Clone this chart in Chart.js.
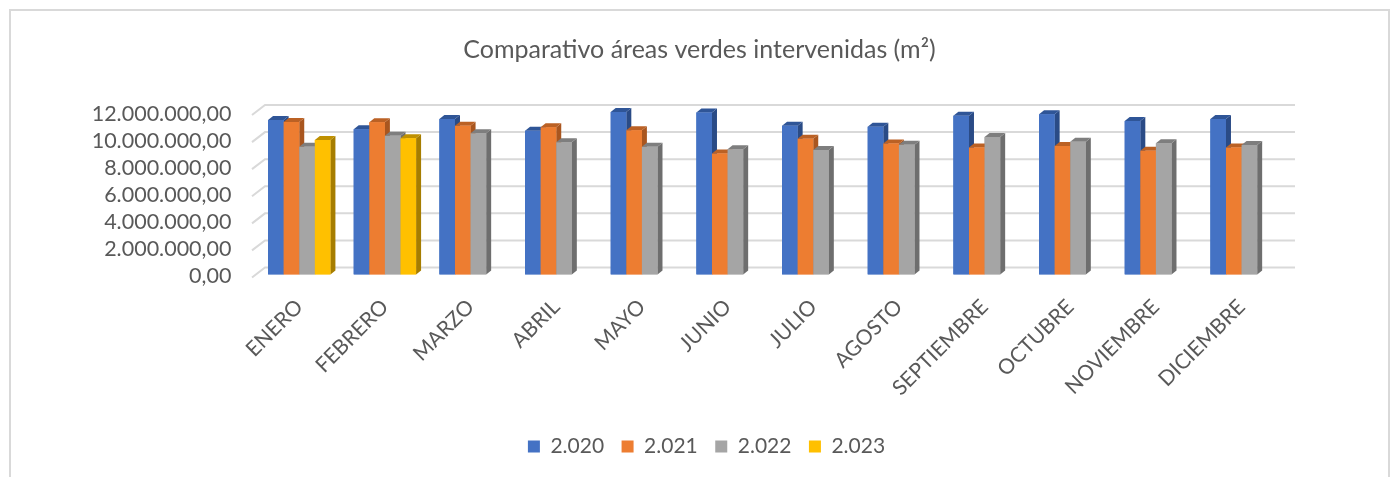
<!DOCTYPE html>
<html>
<head>
<meta charset="utf-8">
<title>Comparativo áreas verdes intervenidas</title>
<script src="https://cdn.jsdelivr.net/npm/chart.js@4/dist/chart.umd.min.js"></script>
<style>
    html, body { margin: 0; height: 100%; background: #fff; overflow: hidden; }
    #frame { position: absolute; left: 9px; top: 9px; width: 1377px; height: 600px; border: 2px solid #d9d9d9; }
    #areasChart { position: absolute; left: 0; top: 0; filter: blur(0.45px); }
</style>
</head>
<body>
<div id="frame"></div>
<canvas id="areasChart" width="1390" height="477"></canvas>
<script>
const months = ['ENERO', 'FEBRERO', 'MARZO', 'ABRIL', 'MAYO', 'JUNIO', 'JULIO', 'AGOSTO', 'SEPTIEMBRE', 'OCTUBRE', 'NOVIEMBRE', 'DICIEMBRE'];
const yTickLabels = ['0,00', '2.000.000,00', '4.000.000,00', '6.000.000,00', '8.000.000,00', '10.000.000,00', '12.000.000,00'];

const values2020 = [11410000, 10720000, 11480000, 10620000, 12000000, 11970000, 10990000, 10920000, 11730000, 11830000, 11340000, 11480000];
const values2021 = [11270000, 11240000, 10990000, 10870000, 10650000, 8930000, 10030000, 9670000, 9370000, 9490000, 9130000, 9370000];
const values2022 = [9440000, 10250000, 10430000, 9770000, 9440000, 9250000, 9200000, 9590000, 10160000, 9810000, 9690000, 9570000];
const values2023 = [9940000, 10060000, null, null, null, null, null, null, null, null, null, null];

const textColor = '#595959';
const gridColor = '#d9d9d9';
const depthX = 5;
const depthY = 4;

function makeSeries(label, data, front, top, side) {
    return { label: label, data: data, backgroundColor: front, topColor: top, sideColor: side, borderWidth: 0 };
}

// back wall and left wall lines of the 3D look
const wallGrid = {
    id: 'wallGrid',
    beforeDatasetsDraw(chart) {
        const ctx = chart.ctx;
        const y = chart.scales.y;
        const left = chart.chartArea.left - 4.4;
        ctx.save();
        ctx.strokeStyle = gridColor;
        ctx.lineWidth = 2;
        y.ticks.forEach(t => {
            const py = y.getPixelForValue(t.value);
            ctx.beginPath();
            ctx.moveTo(left, py + 3);
            ctx.lineTo(left + 13, py - 7);
            ctx.lineTo(1295, py - 7);
            ctx.stroke();
        });
        ctx.restore();
    }
};

// side + top faces, then the bar again so series overlap left to right
const barDepth = {
    id: 'barDepth',
    afterDatasetsDraw(chart) {
        const ctx = chart.ctx;
        chart.data.datasets.forEach((ds, i) => {
            chart.getDatasetMeta(i).data.forEach((bar, j) => {
                if (ds.data[j] === null) return;
                const p = bar.getProps(['x', 'y', 'base', 'width'], true);
                const l = p.x - p.width / 2;
                const r = p.x + p.width / 2;
                ctx.fillStyle = ds.sideColor;
                ctx.beginPath();
                ctx.moveTo(r, p.y);
                ctx.lineTo(r + depthX, p.y - depthY);
                ctx.lineTo(r + depthX, p.base - depthY);
                ctx.lineTo(r, p.base);
                ctx.fill();
                ctx.fillStyle = ds.topColor;
                ctx.beginPath();
                ctx.moveTo(l, p.y);
                ctx.lineTo(l + depthX, p.y - depthY);
                ctx.lineTo(r + depthX, p.y - depthY);
                ctx.lineTo(r, p.y);
                ctx.fill();
                bar.draw(ctx);
            });
        });
    }
};

// legend sits a little right of the title in the original
const legendNudge = {
    id: 'legendNudge',
    afterLayout(chart) {
        chart.legend.left += 7;
        chart.legend.right += 7;
    }
};

new Chart(document.getElementById('areasChart').getContext('2d'), {
    type: 'bar',
    plugins: [wallGrid, barDepth, legendNudge],
    data: {
        labels: months,
        datasets: [
            makeSeries('2.020', values2020, '#4472c4', '#2f5597', '#2a4b86'),
            makeSeries('2.021', values2021, '#ed7d31', '#bb6124', '#a9561f'),
            makeSeries('2.022', values2022, '#a5a5a5', '#7e7e7e', '#6e6e6e'),
            makeSeries('2.023', values2023, '#ffc000', '#bf9000', '#a67d00')
        ]
    },
    options: {
        responsive: false,
        animation: false,
        layout: { padding: { left: 9, right: 0, top: 0, bottom: 10 } },
        datasets: { bar: { categoryPercentage: 0.728, barPercentage: 1 } },
        plugins: {
            tooltip: { enabled: false },
            title: {
                display: true,
                text: 'Comparativo áreas verdes intervenidas (m²)',
                color: textColor,
                font: { family: 'Lato', size: 25, weight: 'normal' },
                padding: { top: 35, bottom: 47 }
            },
            legend: {
                position: 'bottom',
                labels: {
                    color: textColor,
                    font: { family: 'Lato', size: 21 },
                    boxWidth: 12,
                    boxHeight: 12,
                    padding: 17.5
                }
            }
        },
        scales: {
            x: {
                grid: { display: false },
                border: { display: false },
                ticks: {
                    color: textColor,
                    font: { family: 'Lato', size: 21 },
                    minRotation: 45,
                    maxRotation: 45,
                    autoSkip: false,
                    padding: 12
                },
                afterFit: s => { s.height = 144; }
            },
            y: {
                min: 0,
                max: 12000000,
                grid: { display: false },
                border: { display: false },
                ticks: {
                    stepSize: 2000000,
                    autoSkip: false,
                    color: textColor,
                    font: { family: 'Lato', size: 21.5 },
                    padding: 17,
                    labelOffset: 2,
                    callback: (v, i) => yTickLabels[i]
                },
                afterFit: s => { s.width = 247.4; }
            },
            // empty axis, only keeps the plot clear of the right side
            spacer: {
                position: 'right',
                grid: { display: false },
                border: { display: false },
                ticks: { display: false },
                afterFit: s => { s.width = 105.6; }
            }
        }
    }
});
</script>
</body>
</html>
